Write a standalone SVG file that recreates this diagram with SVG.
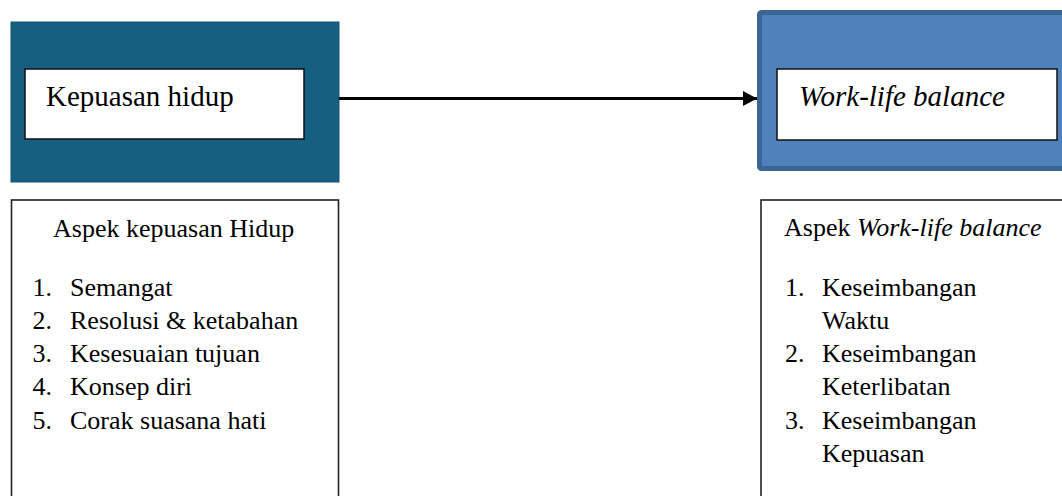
<svg xmlns="http://www.w3.org/2000/svg" width="1062" height="496" viewBox="0 0 1062 496">
  <defs>
    <style>
      text { font-family: 'Liberation Serif', 'DejaVu Serif', serif; fill: #000; }
      .big { font-size: 29px; }
      .sm { font-size: 26px; }
      .it { font-style: italic; }
      .inner { fill: #fff; stroke: #111; stroke-width: 1.5; }
      .panel { fill: #fff; stroke: #222; stroke-width: 1.6; }
    </style>
    <marker id="arr" markerWidth="14" markerHeight="15" refX="14" refY="7.5" orient="auto" markerUnits="userSpaceOnUse">
      <path d="M0,0 L14,7.5 L0,15 Z" fill="#000"/>
    </marker>
  </defs>
  <rect width="1062" height="496" fill="#fff"/>

  <g id="node-kepuasan">
    <rect x="11" y="22" width="328" height="160" fill="#175f80" stroke="#125471" stroke-width="1"/>
    <rect class="inner" x="25" y="69" width="279" height="70"/>
    <text class="big" x="46" y="106" font-family="Liberation Serif, serif">Kepuasan hidup</text>
  </g>

  <g id="node-wlb">
    <rect x="759.5" y="12.5" width="310" height="156" rx="2" fill="#4f81bd" stroke="#3c6494" stroke-width="5"/>
    <rect class="inner" x="777" y="69" width="280" height="71"/>
    <text class="big it" x="799" y="106" font-family="Liberation Serif, serif">Work-life balance</text>
  </g>

  <g id="node-aspek-kepuasan" font-family="Liberation Serif, serif" font-size="26">
    <rect class="panel" x="11.5" y="200" width="327" height="310"/>
    <text class="sm" x="53" y="237">Aspek kepuasan Hidup</text>
    <text class="sm" x="32.5" y="296">1.</text><text class="sm" x="70" y="296">Semangat</text>
    <text class="sm" x="32.5" y="329">2.</text><text class="sm" x="70" y="329">Resolusi &amp; ketabahan</text>
    <text class="sm" x="32.5" y="362">3.</text><text class="sm" x="70" y="362">Kesesuaian tujuan</text>
    <text class="sm" x="32.5" y="395">4.</text><text class="sm" x="70" y="395">Konsep diri</text>
    <text class="sm" x="32.5" y="428.5">5.</text><text class="sm" x="70" y="428.5">Corak suasana hati</text>
  </g>

  <g id="node-aspek-wlb" font-family="Liberation Serif, serif" font-size="26">
    <rect class="panel" x="761" y="200" width="320" height="310"/>
    <text class="sm" x="784" y="236">Aspek <tspan class="it">Work-life balance</tspan></text>
    <text class="sm" x="785" y="295.5">1.</text><text class="sm" x="822" y="295.5">Keseimbangan</text>
    <text class="sm" x="822" y="328.8">Waktu</text>
    <text class="sm" x="785" y="362">2.</text><text class="sm" x="822" y="362">Keseimbangan</text>
    <text class="sm" x="822" y="395.3">Keterlibatan</text>
    <text class="sm" x="785" y="428.6">3.</text><text class="sm" x="822" y="428.6">Keseimbangan</text>
    <text class="sm" x="822" y="461.9">Kepuasan</text>
  </g>

  <g id="connectors">
    <line x1="339" y1="98.5" x2="757" y2="98.5" stroke="#000" stroke-width="3" marker-end="url(#arr)"/>
  </g>
</svg>
